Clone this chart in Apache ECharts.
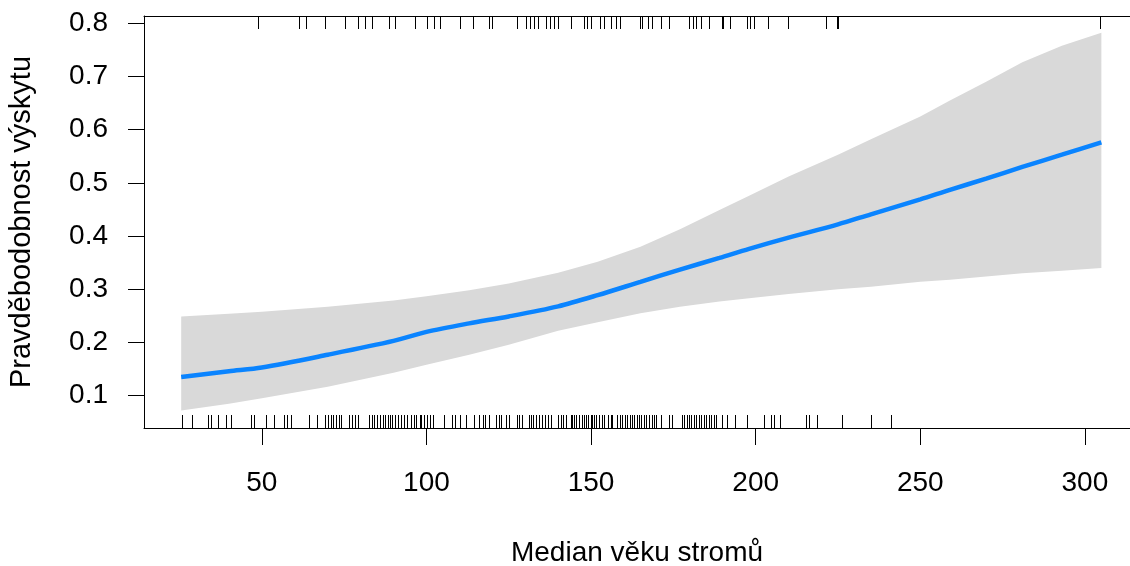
<!DOCTYPE html>
<html>
<head>
<meta charset="utf-8">
<script src="https://cdn.jsdelivr.net/npm/echarts@6/dist/echarts.min.js"></script>
<style>
html,body{margin:0;padding:0;background:#fff;}
#chart{width:1130px;height:566px;}
</style>
</head>
<body>
<div id="chart"></div>
<script>
// Curve sample positions (median tree age)
const curveAge = [25.5, 40, 50, 70, 90, 100, 113, 125, 140, 152, 165, 177, 189, 198, 210, 225, 235, 250, 259, 270, 281, 293, 305];
// Fitted probability
const fitValues = [0.135, 0.146, 0.153, 0.177, 0.203, 0.220, 0.236, 0.249, 0.268, 0.289, 0.314, 0.337, 0.359, 0.376, 0.397, 0.422, 0.441, 0.469, 0.487, 0.508, 0.530, 0.553, 0.576];
// Confidence band upper / lower
const upperValues = [0.249, 0.254, 0.258, 0.267, 0.279, 0.287, 0.298, 0.311, 0.331, 0.352, 0.380, 0.413, 0.449, 0.476, 0.512, 0.553, 0.582, 0.625, 0.655, 0.690, 0.727, 0.758, 0.782];
const lowerValues = [0.072, 0.085, 0.095, 0.117, 0.143, 0.158, 0.177, 0.196, 0.222, 0.238, 0.255, 0.267, 0.277, 0.283, 0.291, 0.300, 0.305, 0.314, 0.318, 0.324, 0.330, 0.335, 0.340];
// Rug: observations with presence (top) and absence (bottom)
const rugTop = [48.7, 61.3, 63.5, 69.2, 75.4, 79.2, 81.3, 83.4, 88.6, 90.3, 96.4, 100.1, 102.3, 104.2, 110.2, 114.0, 118.9, 119.9, 127.5, 130.2, 131.4, 132.8, 133.9, 136.3, 137.5, 138.7, 140.1, 143.9, 147.7, 148.7, 150.0, 152.7, 153.8, 156.1, 157.7, 158.9, 164.8, 165.5, 167.4, 168.6, 171.3, 173.6, 179.7, 180.9, 181.9, 183.5, 185.9, 189.8, 190.1, 192.3, 197.4, 198.4, 199.4, 203.6, 209.7, 221.3, 224.6, 224.9, 304.6];
const rugBottom = [25.7, 28.9, 33.7, 34.5, 36.8, 39.0, 40.5, 46.7, 47.7, 51.4, 53.7, 56.6, 57.6, 59.0, 64.3, 66.6, 69.3, 70.1, 70.9, 71.6, 72.6, 73.5, 74.0, 76.6, 77.4, 78.2, 79.2, 82.4, 83.4, 84.2, 85.0, 86.0, 86.8, 87.5, 88.3, 88.8, 89.5, 90.3, 91.3, 92.3, 93.1, 94.2, 95.2, 96.1, 96.9, 97.9, 98.4, 99.2, 100.1, 101.1, 102.1, 105.2, 107.8, 108.8, 110.2, 112.0, 114.5, 116.1, 117.3, 117.9, 118.9, 121.1, 121.9, 122.6, 124.2, 125.2, 127.4, 128.0, 128.9, 131.2, 131.9, 132.4, 133.4, 134.2, 135.2, 136.1, 136.8, 137.8, 140.0, 140.8, 141.5, 142.3, 143.8, 144.3, 144.8, 145.5, 146.4, 147.1, 147.7, 148.4, 149.1, 149.9, 150.4, 150.9, 151.4, 152.4, 153.2, 154.0, 155.1, 156.0, 156.5, 157.9, 158.7, 159.5, 160.2, 161.0, 161.7, 162.3, 163.0, 163.8, 164.5, 165.2, 166.1, 166.8, 167.6, 168.6, 169.1, 169.8, 171.1, 173.8, 174.6, 177.5, 178.2, 179.0, 179.7, 180.5, 181.2, 181.9, 182.7, 183.5, 184.2, 184.9, 185.8, 186.5, 187.3, 187.8, 189.8, 191.3, 193.6, 197.4, 202.4, 204.8, 205.5, 207.5, 215.2, 216.1, 218.6, 226.2, 235.1, 241.1];
// Tick labels
const xTicks = [50, 100, 150, 200, 250, 300];
const yTicks = [0.1, 0.2, 0.3, 0.4, 0.5, 0.6, 0.7, 0.8];
const xTitle = 'Median věku stromů';
const yTitle = 'Pravděbodobnost výskytu';

const FONT = '"Liberation Sans", Arial, sans-serif';
const chart = echarts.init(document.getElementById('chart'), null, {renderer: 'canvas'});

function rugRender(atTop) {
  return function (params, api) {
    const cs = params.coordSys;
    const x = Math.round(api.coord([api.value(0), 0.5])[0]) + 0.5;
    const len = 13;
    const y0 = atTop ? cs.y : cs.y + cs.height;
    const y1 = atTop ? cs.y + len : cs.y + cs.height - len;
    return {type: 'line', shape: {x1: x, y1: y0, x2: x, y2: y1},
      style: {stroke: '#000', lineWidth: 1}};
  };
}

const bandData = [0];
const X_MIN = 14.2, X_MAX = 313.7;

chart.setOption({
  animation: false,
  backgroundColor: '#fff',
  grid: {left: 144, top: 16, bottom: 138, right: 0, show: false, outerBoundsMode: 'none', containLabel: false},
  xAxis: [{
    type: 'value', min: X_MIN, max: X_MAX, position: 'bottom',
    splitLine: {show: false},
    axisLine: {show: true, lineStyle: {color: '#000', width: 1}},
    axisTick: {show: true, length: 17, lineStyle: {color: '#000', width: 1}, customValues: xTicks},
    axisLabel: {customValues: xTicks, color: '#000', fontSize: 28, fontFamily: FONT, margin: 41},
    name: xTitle, nameLocation: 'middle', nameGap: 111,
    nameTextStyle: {color: '#000', fontSize: 28, fontFamily: FONT}
  }, {
    type: 'value', min: X_MIN, max: X_MAX, position: 'top',
    splitLine: {show: false},
    axisLine: {show: true, lineStyle: {color: '#000', width: 1}},
    axisTick: {show: false}, axisLabel: {show: false}
  }],
  yAxis: {
    type: 'value', min: 0.0393, max: 0.8137,
    splitLine: {show: false},
    axisLine: {show: true, lineStyle: {color: '#000', width: 1}},
    axisTick: {show: true, length: 16, lineStyle: {color: '#000', width: 1}, customValues: yTicks},
    axisLabel: {customValues: yTicks, color: '#000', fontSize: 28, fontFamily: FONT, margin: 36,
      formatter: v => v.toFixed(1)},
    name: yTitle, nameLocation: 'middle', nameGap: 108,
    nameTextStyle: {color: '#000', fontSize: 29, fontFamily: FONT}
  },
  series: [
    {
      type: 'custom', data: bandData, silent: true, z: 1,
      renderItem: function (params, api) {
        const pts = [];
        for (let i = 0; i < curveAge.length; i++) pts.push(api.coord([curveAge[i], upperValues[i]]));
        for (let i = curveAge.length - 1; i >= 0; i--) pts.push(api.coord([curveAge[i], lowerValues[i]]));
        return {type: 'polygon', shape: {points: pts, smooth: 0}, style: {fill: '#d9d9d9', stroke: null}};
      }
    },
    {
      type: 'line', z: 3, smooth: 0.3, showSymbol: false, symbol: 'none',
      data: curveAge.map((a, i) => [a, fitValues[i]]),
      lineStyle: {color: '#0a84ff', width: 4.5}
    },
    {type: 'custom', z: 4, silent: true, data: rugTop.map(v => [v]), renderItem: rugRender(true)},
    {type: 'custom', z: 4, silent: true, data: rugBottom.map(v => [v]), renderItem: rugRender(false)}
  ]
});
</script>
</body>
</html>
